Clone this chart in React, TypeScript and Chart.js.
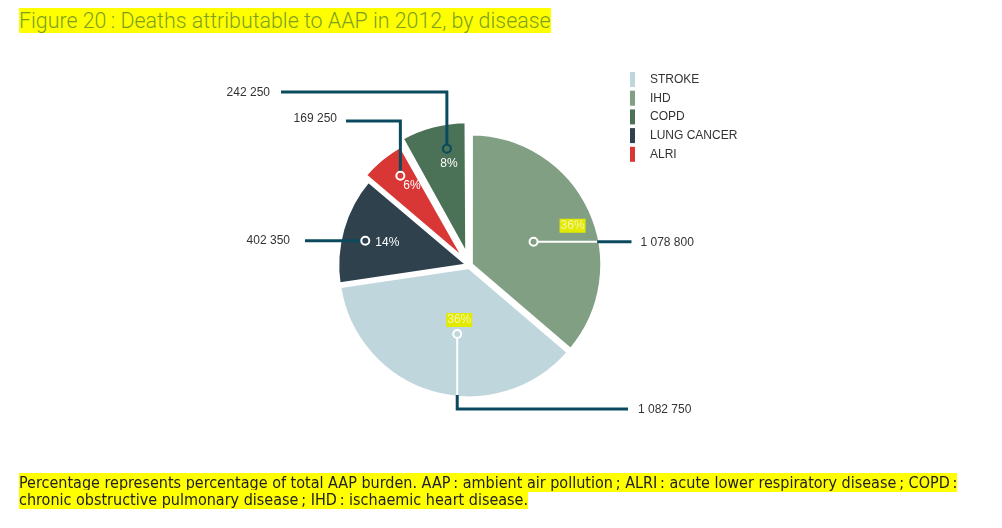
import React, { useEffect, useRef } from "react";
import { Chart, registerables } from "chart.js";

Chart.register(...registerables);

// ---- data (drawing order: clockwise from 12 o'clock) ----
const categories = ["IHD", "STROKE", "LUNG CANCER", "ALRI", "COPD"];
const deaths = [1078800, 1082750, 402350, 169250, 242250];
const valueLabels = ["1 078 800", "1 082 750", "402 350", "169 250", "242 250"];
const percentLabels = ["36%", "36%", "14%", "6%", "8%"];
const legendOrder = ["STROKE", "IHD", "COPD", "LUNG CANCER", "ALRI"];

// ---- styles ----
const sliceColors = ["#819f82", "#bfd6dd", "#2e414d", "#d93636", "#4b7257"];
const sliceOffsets = [6, 6, 4, 18, 36];
const markerRadial = [0.51, 0.52, 0.81, 0.83, 0.84];
const markerAngleShift = [4.5, -6, -2.5, 2, 4];
const markerRing = ["#ffffff", "#ffffff", "#ffffff", "#ffffff", "#0b4a5e"];
const LINE = "#0b4a5e";
const TEXT = "#333333";
const FONT = '12px "Liberation Sans", Arial, sans-serif';

const titleText = "Figure 20\u2009: Deaths attributable to AAP in 2012, by disease";
const noteLine1 =
  "Percentage represents percentage of total AAP burden. AAP\u2009: ambient air pollution\u2009; ALRI\u2009: acute lower respiratory disease\u2009; COPD\u2009:";
const noteLine2 = "chronic obstructive pulmonary disease\u2009; IHD\u2009: ischaemic heart disease.";

const leaderPlugin = {
  id: "leaderLabels",
  afterDatasetsDraw(chart: any) {
    const ctx: CanvasRenderingContext2D = chart.ctx;
    const arcs = chart.getDatasetMeta(0).data;
    const cx = arcs[0].x;
    const cy = arcs[0].y;
    const R = arcs[0].outerRadius;
    const info = arcs.map((arc: any, i: number) => {
      const p = arc.getProps(["startAngle", "endAngle"], true);
      const mid = (p.startAngle + p.endAngle) / 2;
      const off = (arc.options.offset || 0) / 4;
      const ox = Math.cos(mid) * off;
      const oy = Math.sin(mid) * off;
      const a = mid + (markerAngleShift[i] * Math.PI) / 180;
      const r = markerRadial[i] * R;
      return { x: cx + ox + Math.cos(a) * r, y: cy + oy + Math.sin(a) * r, ox, oy };
    });
    const Rv = R - 2.5;

    ctx.save();
    ctx.lineCap = "butt";
    ctx.lineJoin = "miter";
    const seg = (pts: number[][], color: string, w: number) => {
      ctx.beginPath();
      ctx.moveTo(pts[0][0], pts[0][1]);
      for (let k = 1; k < pts.length; k++) ctx.lineTo(pts[k][0], pts[k][1]);
      ctx.strokeStyle = color;
      ctx.lineWidth = w;
      ctx.stroke();
    };
    ctx.font = FONT;
    ctx.fillStyle = TEXT;
    ctx.textBaseline = "middle";

    // IHD: to the right
    {
      const m = info[0];
      const dy = m.y - (cy + m.oy);
      const edge = cx + m.ox + Math.sqrt(Rv * Rv - dy * dy);
      const end = cx + R + 31;
      seg([[m.x + 4, m.y], [edge, m.y]], "#ffffff", 2);
      seg([[edge, m.y], [end, m.y]], LINE, 3);
      ctx.textAlign = "left";
      ctx.fillStyle = TEXT;
      ctx.fillText(valueLabels[0], end + 9, m.y + 1);
    }
    // STROKE: down then right
    {
      const m = info[1];
      const dx = m.x - (cx + m.ox);
      const edge = cy + m.oy + Math.sqrt(Rv * Rv - dx * dx);
      const yEnd = cy + 143.5;
      const xEnd = cx + 158.5;
      seg([[m.x, m.y + 4], [m.x, edge]], "#ffffff", 2);
      seg([[m.x, edge], [m.x, yEnd], [xEnd, yEnd]], LINE, 3);
      ctx.textAlign = "left";
      ctx.fillStyle = TEXT;
      ctx.fillText(valueLabels[1], xEnd + 10, yEnd + 1);
    }
    // LUNG CANCER: to the left
    {
      const m = info[2];
      const xEnd = cx - 164.5;
      seg([[m.x - 4, m.y], [xEnd, m.y]], LINE, 3);
      ctx.textAlign = "right";
      ctx.fillStyle = TEXT;
      ctx.fillText(valueLabels[2], xEnd - 15, m.y);
    }
    // ALRI and COPD: up then left
    const ups = [
      { i: 3, rise: 144.5, reach: 123.5, gap: 9, dy: -2.5 },
      { i: 4, rise: 173.5, reach: 188.5, gap: 11, dy: 1 },
    ];
    ups.forEach((u) => {
      const m = info[u.i];
      const yEnd = cy - u.rise;
      const xEnd = cx - u.reach;
      seg([[m.x, m.y - 4], [m.x, yEnd], [xEnd, yEnd]], LINE, 3);
      ctx.textAlign = "right";
      ctx.fillStyle = TEXT;
      ctx.fillText(valueLabels[u.i], xEnd - u.gap, yEnd + u.dy);
    });

    // markers
    info.forEach((m: any, i: number) => {
      ctx.beginPath();
      ctx.arc(m.x, m.y, 4, 0, Math.PI * 2);
      ctx.strokeStyle = markerRing[i];
      ctx.lineWidth = 2;
      ctx.stroke();
    });

    // percent labels
    const pct = [
      { dx: 39, dy: -16, align: "center", hl: true },
      { dx: 2, dy: -14, align: "center", hl: true },
      { dx: 10, dy: 1.5, align: "left", hl: false },
      { dx: 3, dy: 10, align: "left", hl: false },
      { dx: 2, dy: 15, align: "center", hl: false },
    ];
    pct.forEach((p, i) => {
      const m = info[i];
      const x = m.x + p.dx;
      const y = m.y + p.dy;
      ctx.textAlign = p.align as CanvasTextAlign;
      if (p.hl) {
        const w = ctx.measureText(percentLabels[i]).width;
        ctx.fillStyle = "#e2ea00";
        ctx.fillRect(x - w / 2 - 1, y - 7, w + 2, 14);
        ctx.fillStyle = "#f4f6a6";
      } else {
        ctx.fillStyle = "#ffffff";
      }
      ctx.fillText(percentLabels[i], x, y);
    });

    // legend
    ctx.textAlign = "left";
    legendOrder.forEach((name, k) => {
      const idx = categories.indexOf(name);
      const y = 79.5 + k * 18.7;
      ctx.fillStyle = sliceColors[idx];
      ctx.fillRect(630, y - 7.5, 5, 15);
      ctx.fillStyle = TEXT;
      ctx.fillText(name, 650, y);
    });
    ctx.restore();
  },
};

export default function App() {
  const ref = useRef<HTMLCanvasElement | null>(null);
  useEffect(() => {
    if (!ref.current) return;
    const chart = new Chart(ref.current, {
      type: "pie",
      data: {
        labels: categories,
        datasets: [
          {
            data: deaths,
            backgroundColor: sliceColors,
            borderColor: "#ffffff",
            borderWidth: 4,
            offset: sliceOffsets,
            radius: 131,
          } as any,
        ],
      },
      options: {
        animation: false,
        responsive: false,
        events: [],
        layout: { padding: { left: 0, right: 63, top: 3, bottom: 0 } },
        plugins: { legend: { display: false }, tooltip: { enabled: false } },
      },
      plugins: [leaderPlugin],
    });
    return () => chart.destroy();
  }, []);

  return (
    <div
      style={{
        position: "absolute",
        left: 0,
        top: 0,
        width: 1002,
        height: 528,
        background: "#ffffff",
        overflow: "hidden",
      }}
    >
      <canvas ref={ref} width={1002} height={528} style={{ position: "absolute", left: 0, top: 0 }} />
      <div
        style={{
          position: "absolute",
          left: 19,
          top: 9,
          fontFamily: "Roboto, sans-serif",
          fontWeight: 300,
          fontSize: 21.4,
          lineHeight: "24px",
          color: "#7c9f1e",
          whiteSpace: "nowrap",
        }}
      >
        <span style={{ background: "#ffff00" }}>{titleText}</span>
      </div>
      <div
        style={{
          position: "absolute",
          left: 19,
          top: 474,
          fontFamily: '"Liberation Sans Narrow", "DejaVu Sans Condensed", sans-serif',
          fontSize: 16,
          letterSpacing: "0px",
          lineHeight: "17px",
          color: "#222222",
          whiteSpace: "nowrap",
        }}
      >
        <span style={{ background: "#ffff00" }}>{noteLine1}</span>
        <br />
        <span style={{ background: "#ffff00" }}>{noteLine2}</span>
      </div>
    </div>
  );
}
